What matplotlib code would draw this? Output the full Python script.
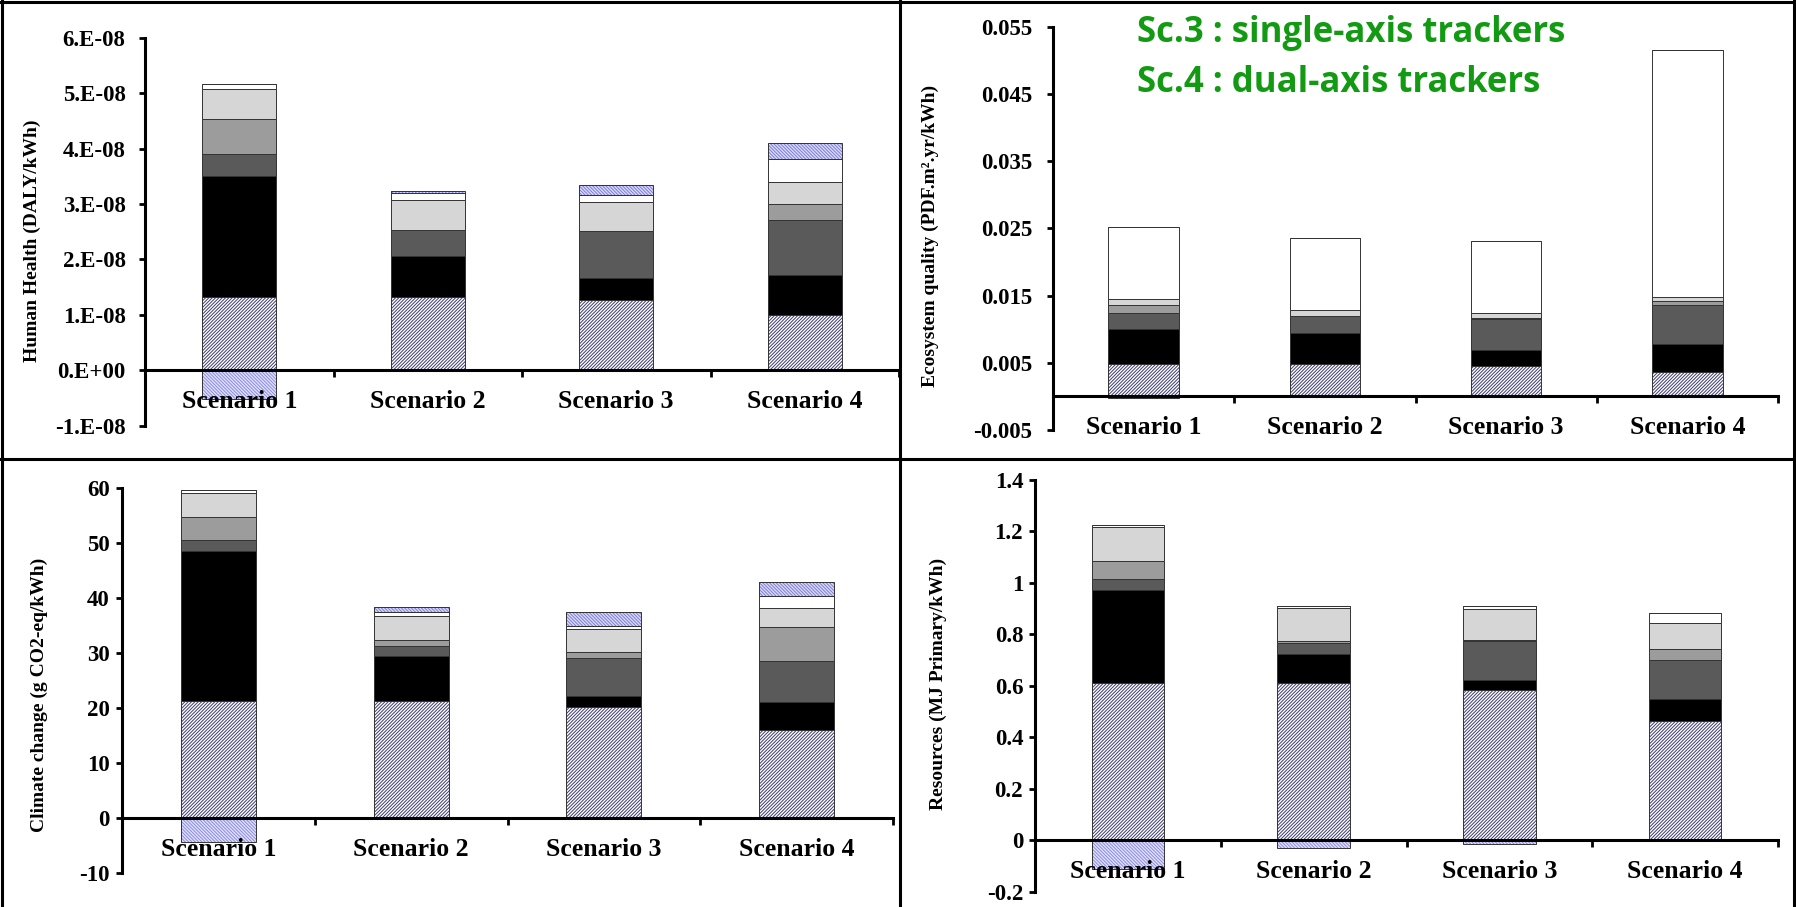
import numpy as np
import matplotlib
matplotlib.use("Agg")
import matplotlib.pyplot as plt
from matplotlib.lines import Line2D

# data: stacked segments from the bottom, one row per layer
scenarios = ["Scenario 1", "Scenario 2", "Scenario 3", "Scenario 4"]
layers = ["hatched", "black", "dark grey", "medium grey", "light grey", "white", "top hatched"]

# Human Health (DALY/kWh)
hh_segments = [
    [1.324e-8, 1.323e-8, 1.264e-8, 0.990e-8],
    [2.186e-8, 0.735e-8, 0.409e-8, 0.725e-8],
    [0.400e-8, 0.469e-8, 0.836e-8, 1.005e-8],
    [0.620e-8, 0.010e-8, 0.010e-8, 0.271e-8],
    [0.540e-8, 0.532e-8, 0.508e-8, 0.408e-8],
    [0.100e-8, 0.121e-8, 0.132e-8, 0.420e-8],
    [0.000e-8, 0.046e-8, 0.180e-8, 0.290e-8],
]
hh_negative = [-0.51e-8, 0.0, 0.0, 0.0]
hh_ticks = [-1e-8, 0, 1e-8, 2e-8, 3e-8, 4e-8, 5e-8, 6e-8]
hh_ticklabels = ["-1.E-08", "0.E+00", "1.E-08", "2.E-08", "3.E-08", "4.E-08", "5.E-08", "6.E-08"]

# Ecosystem quality (PDF.m2.yr/kWh)
eq_segments = [
    [0.00484, 0.00487, 0.00457, 0.00367],
    [0.00513, 0.00461, 0.00228, 0.00411],
    [0.00238, 0.00242, 0.00471, 0.00576],
    [0.00119, 0.00010, 0.00010, 0.00060],
    [0.00100, 0.00080, 0.00079, 0.00064],
    [0.01060, 0.01070, 0.01070, 0.03668],
    [0.0, 0.0, 0.0, 0.0],
]
eq_negative = [-0.0003, 0.0, 0.0, 0.0]
eq_ticks = [-0.005, 0.005, 0.015, 0.025, 0.035, 0.045, 0.055]
eq_ticklabels = ["-0.005", "0.005", "0.015", "0.025", "0.035", "0.045", "0.055"]

# Climate change (g CO2-eq/kWh)
cc_segments = [
    [21.33, 21.33, 20.18, 16.06],
    [27.27, 8.12, 2.06, 5.09],
    [1.95, 1.95, 6.86, 7.45],
    [4.15, 1.00, 1.20, 6.10],
    [4.40, 4.45, 4.10, 3.50],
    [0.66, 0.60, 0.60, 2.20],
    [0.00, 1.05, 2.60, 2.50],
]
cc_negative = [-4.24, 0.0, 0.0, 0.0]
cc_ticks = [-10, 0, 10, 20, 30, 40, 50, 60]
cc_ticklabels = ["-10", "0", "10", "20", "30", "40", "50", "60"]

# Resources (MJ Primary/kWh)
rs_segments = [
    [0.610, 0.610, 0.582, 0.462],
    [0.364, 0.115, 0.042, 0.086],
    [0.042, 0.043, 0.150, 0.151],
    [0.070, 0.005, 0.005, 0.045],
    [0.131, 0.129, 0.118, 0.100],
    [0.009, 0.009, 0.014, 0.038],
    [0.0, 0.0, 0.0, 0.0],
]
rs_negative = [-0.110, -0.032, -0.016, 0.0]
rs_ticks = [-0.2, 0, 0.2, 0.4, 0.6, 0.8, 1.0, 1.2, 1.4]
rs_ticklabels = ["-0.2", "0", "0.2", "0.4", "0.6", "0.8", "1", "1.2", "1.4"]

# styles: (face, hatch, hatch colour)
styles = [
    ("white", "/" * 10, "#3b3b6e"),
    ("black", None, None),
    ("#5a5a5a", None, None),
    ("#9c9c9c", None, None),
    ("#d6d6d6", None, None),
    ("white", None, None),
    ("#dcdcfa", "\\" * 10, "#7b7bd6"),
]
neg_style = ("#e2e2fc", "\\" * 10, "#8a8ae0")

plt.rcParams["font.family"] = ["Liberation Serif", "DejaVu Serif"]
plt.rcParams["font.weight"] = "bold"
plt.rcParams["hatch.linewidth"] = 0.7

W, H = 1796, 907
fig = plt.figure(figsize=(W / 100, H / 100), dpi=100)


def px_rect(left, right, top, bottom):
    return [left / W, (H - bottom) / H, (right - left) / W, (bottom - top) / H]


def bar_layer(ax, x, vals, bottom, style, width):
    face, hatch, hcol = style
    if hatch:
        ax.bar(x, vals, width, bottom=bottom, color=face, edgecolor=hcol,
               hatch=hatch, linewidth=0, zorder=0.5)
        ax.bar(x, vals, width, bottom=bottom, fill=False, edgecolor="#333333",
               linewidth=0.7, zorder=0.6)
    else:
        ax.bar(x, vals, width, bottom=bottom, color=face, edgecolor="#333333",
               linewidth=0.7, zorder=0.5)


def draw_panel(rect, segments, negative, ticks, ticklabels, ylabel, ylabel_xy, ypad):
    ax = fig.add_axes(rect)
    x = np.arange(1, 5)
    width = 0.39
    bottom = np.zeros(4)
    for style, vals in zip(styles, segments):
        vals = np.array(vals)
        bar_layer(ax, x, vals, bottom, style, width)
        bottom = bottom + vals
    neg = np.array(negative)
    bar_layer(ax, x[neg < 0], neg[neg < 0], 0, neg_style, width)

    ax.set_xlim(0.5, 4.5)
    ax.set_ylim(ticks[0], ticks[-1])
    ax.set_yticks(ticks)
    ax.set_yticklabels(ticklabels)
    ax.set_xticks([0.5, 1.5, 2.5, 3.5, 4.5])
    ax.set_xticklabels([])
    ax.set_xticks(x, minor=True)
    ax.set_xticklabels(scenarios, minor=True)
    ax.tick_params(axis="x", which="major", direction="out", length=5, width=2)
    ax.tick_params(axis="x", which="minor", length=0, pad=14, labelsize=18.5)
    ax.tick_params(axis="y", direction="out", length=4, width=2, pad=ypad, labelsize=16.5)
    for s in ["top", "right"]:
        ax.spines[s].set_visible(False)
    ax.spines["left"].set_linewidth(2.2)
    ax.spines["bottom"].set_position(("data", 0))
    ax.spines["bottom"].set_linewidth(2.2)
    ax.patch.set_alpha(0)
    fig.text(ylabel_xy[0] / W, 1 - ylabel_xy[1] / H, ylabel, rotation=90,
             ha="center", va="center", fontsize=14, fontweight="bold")
    return ax


draw_panel(px_rect(145, 899, 37.7, 425.7), hh_segments, hh_negative, hh_ticks,
           hh_ticklabels, "Human Health (DALY/kWh)", (32, 241), 10)
draw_panel(px_rect(1053, 1778, 26.7, 430), eq_segments, eq_negative, eq_ticks,
           eq_ticklabels, "Ecosystem quality (PDF.m\u00b2.yr/kWh)", (930, 236), 11)
draw_panel(px_rect(122, 893, 488.3, 873.3), cc_segments, cc_negative, cc_ticks,
           cc_ticklabels, "Climate change (g CO2-eq/kWh)", (39, 695), 5)
draw_panel(px_rect(1035, 1778, 480, 891.7), rs_segments, rs_negative, rs_ticks,
           rs_ticklabels, "Resources (MJ Primary/kWh)", (938, 684), 4.5)

# green notes
note_font = ["Open Sans", "DejaVu Sans"]
fig.text(1137 / W, 1 - 42 / H, "Sc.3 : single-axis trackers", color="#129a12",
         fontsize=25, fontweight="bold", family=note_font, va="baseline")
fig.text(1137 / W, 1 - 92 / H, "Sc.4 : dual-axis trackers", color="#129a12",
         fontsize=25, fontweight="bold", family=note_font, va="baseline")

# panel borders: left, middle, right, top and the middle divider (none at the bottom)
borders = [
    ((1.5, 1.5), (0, H)),
    ((899.5, 899.5), (0, H)),
    ((W - 2, W - 2), (0, H)),
    ((0, W), (H - 1.5, H - 1.5)),
    ((0, W), (H - 459, H - 459)),
]
for xs, ys in borders:
    fig.add_artist(Line2D([v / W for v in xs], [v / H for v in ys],
                          color="black", linewidth=2.2))

fig.savefig("out.png", dpi=100)
